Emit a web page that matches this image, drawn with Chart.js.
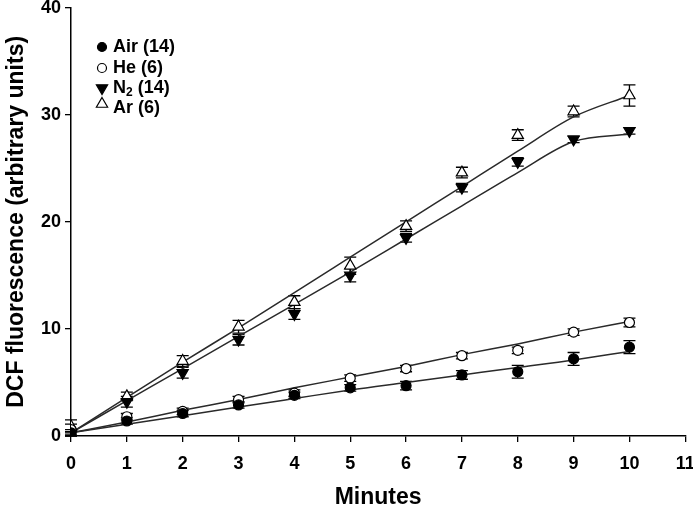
<!DOCTYPE html>
<html>
<head>
<meta charset="utf-8">
<script src="https://cdn.jsdelivr.net/npm/chart.js@4/dist/chart.umd.min.js"></script>
<style>
html,body{margin:0;padding:0;background:#fff;}
#wrap{width:693px;height:508px;position:relative;}
</style>
</head>
<body>
<div id="wrap"><canvas id="c" width="693" height="508"></canvas></div>
<script>
const minutes = [0,1,2,3,4,5,6,7,8,9,10];
const xTicks = [0,1,2,3,4,5,6,7,8,9,10,11];
const yTicks = [0,10,20,30,40];

const airMean = [0.3,1.4,2.1,2.9,3.8,4.5,4.7,5.7,6.0,7.2,8.3];
const airErr  = [0.3,0.3,0.3,0.3,0.3,0.3,0.4,0.4,0.6,0.6,0.6];
const heMean  = [0.6,1.8,2.3,3.4,4.0,5.4,6.3,7.5,8.0,9.7,10.6];
const heErr   = [0.5,0.3,0.3,0.3,0.3,0.3,0.3,0.3,0.3,0.3,0.4];
const n2Mean  = [0.2,3.2,5.9,9.0,11.4,15.0,18.5,23.2,25.6,27.7,28.5];
const n2Err   = [0.2,0.5,0.5,0.5,0.5,0.6,0.4,0.4,0.4,0.3,0.3];
const arMean  = [0.9,3.7,7.0,10.2,12.5,15.9,19.6,24.6,28.1,30.3,31.8];
const arErr   = [0.6,0.4,0.5,0.6,0.6,0.8,0.5,0.5,0.5,0.5,1.0];

const airFit = [0.3,1.1,1.9,2.7,3.5,4.3,5.0,5.7,6.4,7.1,7.9];
const heFit  = [0.3,1.3,2.4,3.4,4.5,5.5,6.5,7.6,8.6,9.7,10.7];
const n2Fit  = [0.3,3.3,6.3,9.3,12.3,15.3,18.4,21.5,24.6,27.5,28.2];
const arFit  = [0.3,3.6,6.9,10.1,13.4,16.7,20.0,23.3,26.6,29.8,31.8];

// legend: [main text, subscript, rest]
const labels = [['Air','',' (14)'],['He','',' (6)'],['N','2',' (14)'],['Ar','',' (6)']];

const pts = (ys) => minutes.map((x,i)=>({x:x,y:ys[i]}));
const FONT = '"Liberation Sans", Arial, sans-serif';

function fitDs(ys){
  return {type:'line', data:pts(ys), borderColor:'#2a2a2a', borderWidth:1.5, pointRadius:0,
    cubicInterpolationMode:'monotone', fill:false, order:2, isFit:true};
}
function ptDs(label, ys, err, style, filled, r){
  return {type:'scatter', label:label.join(''), parts:label, data:pts(ys), err:err,
    pointStyle:style, rotation: style==='triangle' && filled ? 180 : 0,
    pointRadius:r, pointHoverRadius:r,
    pointBackgroundColor: filled ? '#000' : '#fff', pointBorderColor:'#000', pointBorderWidth:1.2,
    showLine:false, order:1};
}

const errorBars = {
  id:'errorBars',
  beforeDatasetsDraw(chart){
    const ctx = chart.ctx, xs = chart.scales.x, ys = chart.scales.y;
    ctx.save();
    ctx.strokeStyle = '#000'; ctx.lineWidth = 1.3;
    chart.data.datasets.forEach(ds=>{
      if(!ds.err) return;
      ds.data.forEach((p,i)=>{
        const e = ds.err[i];
        const px = xs.getPixelForValue(p.x);
        const top = ys.getPixelForValue(p.y+e), bot = ys.getPixelForValue(p.y-e);
        ctx.beginPath();
        ctx.moveTo(px, top); ctx.lineTo(px, bot);
        ctx.moveTo(px-6, top); ctx.lineTo(px+6, top);
        ctx.moveTo(px-6, bot); ctx.lineTo(px+6, bot);
        ctx.stroke();
      });
    });
    ctx.restore();
  }
};

const legendBox = {
  id:'legendBox',
  afterDraw(chart){
    const ctx = chart.ctx;
    const pointDs = chart.data.datasets.filter(d=>!d.isFit);
    const rowsY = [47,68,88,108];
    ctx.save();
    ctx.textBaseline = 'middle';
    pointDs.forEach((ds,i)=>{
      const y = rowsY[i];
      const tri = ds.pointStyle==='triangle';
      ctx.fillStyle = ds.pointBackgroundColor;
      ctx.strokeStyle = '#000';
      ctx.lineWidth = 1.2;
      Chart.helpers.drawPoint(ctx, {pointStyle:ds.pointStyle, rotation:ds.rotation, radius: tri?6.5:4.5, borderWidth:1.2}, 102, (tri && ds.rotation===0) ? y-4 : y);
      ctx.fillStyle = '#000';
      let x = 113;
      const [a,sub,b] = ds.parts;
      ctx.font = 'bold 18px ' + FONT;
      ctx.fillText(a, x, y); x += ctx.measureText(a).width;
      if(sub){
        ctx.font = 'bold 12px ' + FONT;
        ctx.fillText(sub, x, y+5); x += ctx.measureText(sub).width;
        ctx.font = 'bold 18px ' + FONT;
      }
      ctx.fillText(b, x, y);
    });
    ctx.restore();
  }
};

new Chart(document.getElementById('c'), {
  data:{
    datasets:[
      fitDs(airFit), fitDs(heFit), fitDs(n2Fit), fitDs(arFit),
      ptDs(labels[0], airMean, airErr, 'circle', true, 5),
      ptDs(labels[1], heMean, heErr, 'circle', false, 5),
      ptDs(labels[2], n2Mean, n2Err, 'triangle', true, 6.5),
      ptDs(labels[3], arMean, arErr, 'triangle', false, 6.5)
    ]
  },
  options:{
    responsive:false, animation:false, devicePixelRatio:1,
    layout:{padding:{left:0, top:6, right:6, bottom:0}},
    plugins:{legend:{display:false}, tooltip:{enabled:false}},
    scales:{
      x:{type:'linear', min:0, max:11,
        afterBuildTicks(s){ s.ticks = xTicks.map(v=>({value:v})); },
        afterFit(s){ s.height = 72; s.paddingLeft = 0; s.paddingRight = 0; },
        border:{display:true, color:'#000', width:1.5},
        grid:{display:true, drawOnChartArea:false, drawTicks:true, tickLength:6, color:'#000', lineWidth:1.3},
        ticks:{color:'#000', padding:11, font:{family:FONT, size:18, weight:'bold'}, maxRotation:0, autoSkip:false},
        title:{display:true, text:'Minutes', color:'#000', font:{family:FONT, size:23, weight:'bold'}, padding:{top:0,bottom:-3}}
      },
      y:{type:'linear', min:0, max:40,
        afterBuildTicks(s){ s.ticks = yTicks.map(v=>({value:v})); },
        afterFit(s){ s.width = 71; s.paddingTop = 0; s.paddingBottom = 0; },
        border:{display:true, color:'#000', width:1.5},
        grid:{display:true, drawOnChartArea:false, drawTicks:true, tickLength:6, color:'#000', lineWidth:1.3},
        ticks:{color:'#000', padding:4, font:{family:FONT, size:18, weight:'bold'}},
        title:{display:true, text:'DCF fluorescence (arbitrary units)', color:'#000', font:{family:FONT, size:23, weight:'bold'}, padding:{top:3,bottom:0}}
      }
    }
  },
  plugins:[errorBars, legendBox]
});
</script>
</body>
</html>
